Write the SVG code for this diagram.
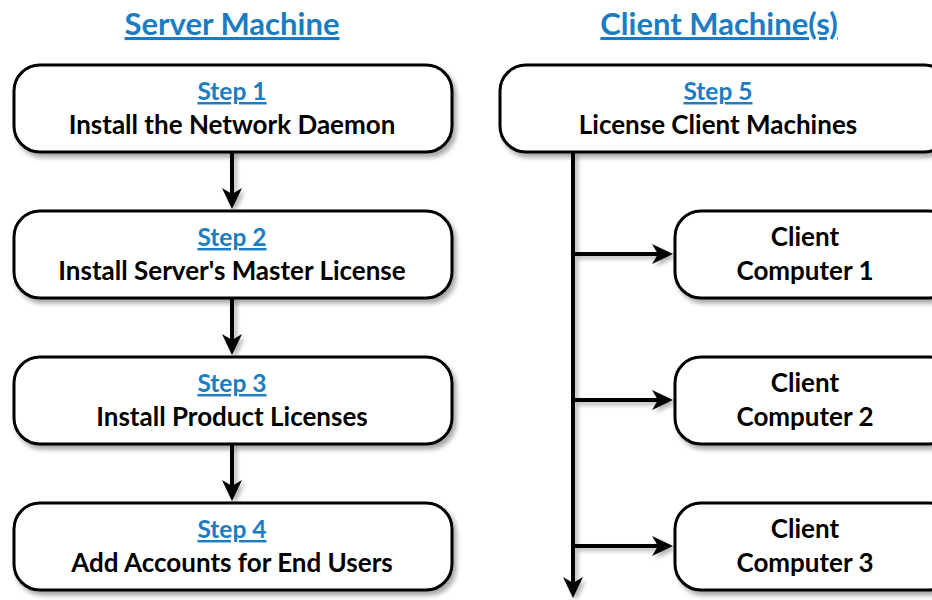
<svg xmlns="http://www.w3.org/2000/svg" width="932" height="600" viewBox="0 0 932 600">
<defs>
<style>
.box{fill:#fff;stroke:#000;stroke-width:3;filter:url(#sh)}
.t{font-family:Lato,"Open Sans",sans-serif;font-weight:bold;font-size:26px;fill:#000;text-anchor:middle}
.s{font-family:Lato,"Open Sans",sans-serif;font-weight:bold;font-size:24.5px;fill:#1a7cc2;text-anchor:middle;text-decoration:underline;text-decoration-skip-ink:none}
.h{font-family:Lato,"Open Sans",sans-serif;font-weight:bold;font-size:31px;fill:#1a7cc2;text-anchor:middle;text-decoration:underline;text-decoration-skip-ink:none}
.c{stroke:#000;stroke-width:4;fill:none;marker-end:url(#ah)}
</style>
<filter id="sh" x="-10%" y="-20%" width="130%" height="150%">
<feGaussianBlur in="SourceAlpha" stdDeviation="2.5"/>
<feOffset dx="3" dy="4" result="b"/>
<feComponentTransfer><feFuncA type="linear" slope="0.35"/></feComponentTransfer>
<feMerge><feMergeNode/><feMergeNode in="SourceGraphic"/></feMerge>
</filter>
<filter id="lsh" filterUnits="userSpaceOnUse" x="0" y="0" width="932" height="600">
<feGaussianBlur in="SourceAlpha" stdDeviation="2"/>
<feOffset dx="3" dy="3" result="b"/>
<feComponentTransfer><feFuncA type="linear" slope="0.3"/></feComponentTransfer>
<feMerge><feMergeNode/><feMergeNode in="SourceGraphic"/></feMerge>
</filter>
<marker id="ah" viewBox="0 0 22 22" refX="12" refY="11" markerWidth="22" markerHeight="22" markerUnits="userSpaceOnUse" orient="auto">
<path d="M22,11 L1,1 L7,11 L1,21 Z" fill="#000"/>
</marker>
</defs>
<rect width="932" height="600" fill="#fff"/>
<text class="h" x="232" y="35">Server Machine</text>
<text class="h" x="719" y="35">Client Machine(s)</text>
<g id="connectors" filter="url(#lsh)">
<line class="c" x1="232" y1="152" x2="232" y2="199"/>
<line class="c" x1="232" y1="298" x2="232" y2="345"/>
<line class="c" x1="232" y1="444" x2="232" y2="491"/>
<line class="c" x1="573" y1="152" x2="573" y2="588"/>
<line class="c" x1="573" y1="254" x2="663" y2="254"/>
<line class="c" x1="573" y1="400" x2="663" y2="400"/>
<line class="c" x1="573" y1="546" x2="663" y2="546"/>
</g>
<g id="step1"><rect class="box" x="14" y="65" width="438" height="87" rx="26"/><text class="s" x="232" y="100">Step 1</text><text class="t" x="232" y="134">Install the Network Daemon</text></g>
<g id="step2"><rect class="box" x="14" y="211" width="438" height="87" rx="26"/><text class="s" x="232" y="246">Step 2</text><text class="t" x="232" y="280">Install Server's Master License</text></g>
<g id="step3"><rect class="box" x="14" y="357" width="438" height="87" rx="26"/><text class="s" x="232" y="392">Step 3</text><text class="t" x="232" y="426">Install Product Licenses</text></g>
<g id="step4"><rect class="box" x="14" y="503" width="438" height="87" rx="26"/><text class="s" x="232" y="538">Step 4</text><text class="t" x="232" y="572">Add Accounts for End Users</text></g>
<g id="step5"><rect class="box" x="500" y="65" width="450" height="87" rx="26"/><text class="s" x="718" y="100">Step 5</text><text class="t" x="718" y="134">License Client Machines</text></g>
<g id="client1"><rect class="box" x="675" y="211" width="280" height="87" rx="26"/><text class="t" x="805" y="246">Client</text><text class="t" x="805" y="280">Computer 1</text></g>
<g id="client2"><rect class="box" x="675" y="357" width="280" height="87" rx="26"/><text class="t" x="805" y="392">Client</text><text class="t" x="805" y="426">Computer 2</text></g>
<g id="client3"><rect class="box" x="675" y="503" width="280" height="87" rx="26"/><text class="t" x="805" y="538">Client</text><text class="t" x="805" y="572">Computer 3</text></g>
</svg>
